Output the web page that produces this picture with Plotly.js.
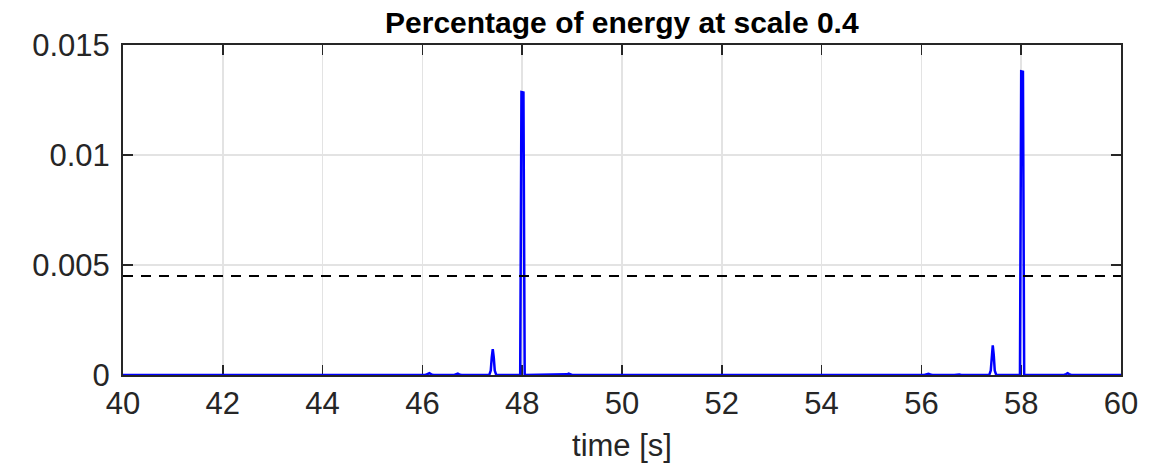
<!DOCTYPE html>
<html>
<head>
<meta charset="utf-8">
<script src="https://cdn.plot.ly/plotly-3.0.1.min.js"></script>
<style>html,body{margin:0;padding:0;background:#fff;}#chart{width:1158px;height:469px;}</style>
</head>
<body>
<div id="chart"></div>
<script>
// time [s]
var timeS = [40, 46.06, 46.1, 46.14, 46.18, 46.22, 46.64, 46.68, 46.71, 46.74, 46.78,
  47.34, 47.37, 47.39, 47.41, 47.43, 47.45, 47.48,
  47.96, 47.985, 48.025, 48.05,
  48.86, 48.9, 48.93, 48.96, 49.0,
  56.06, 56.1, 56.14, 56.18, 56.22, 56.66, 56.7, 56.73, 56.76, 56.8,
  57.36, 57.39, 57.41, 57.43, 57.45, 57.47, 57.5,
  57.975, 58.0, 58.035, 58.06,
  58.86, 58.9, 58.93, 58.96, 59.0, 60];
// percentage of energy
var energy = [0, 0, 0.00004, 0.00008, 0.00003, 0, 0, 0.00003, 0.00006, 0.00003, 0,
  0, 0.0002, 0.0008, 0.00118, 0.0008, 0.0002, 0,
  0, 0.01286, 0.01284, 0,
  0, 0.00003, 0.00006, 0.00003, 0,
  0, 0.00003, 0.00005, 0.00002, 0, 0, 0.00002, 0.00004, 0.00002, 0,
  0, 0.0002, 0.0009, 0.00135, 0.0009, 0.0002, 0,
  0, 0.0138, 0.01378, 0,
  0, 0.00004, 0.00008, 0.00004, 0, 0];
var thresholdX = [40, 60];
var thresholdY = [0.0045, 0.0045];
var xTicks = [40, 42, 44, 46, 48, 50, 52, 54, 56, 58, 60];
var yTicks = [0, 0.005, 0.01, 0.015];
var yTickText = ['0', '0.005', '0.01', '0.015'];

var FONT = 'Liberation Sans, Arial, Helvetica, sans-serif';
var traces = [
  {x: timeS, y: energy, type: 'scatter', mode: 'lines', line: {color: '#0000ff', width: 2.5}, hoverinfo: 'none'},
  {x: thresholdX, y: thresholdY, type: 'scatter', mode: 'lines', line: {color: '#000000', width: 2, dash: '10px,8px'}, hoverinfo: 'none'}
];
var axisCommon = {
  showline: true, linecolor: '#262626', linewidth: 2, mirror: 'ticks',
  ticks: 'inside', ticklen: 10, tickwidth: 1.5, tickcolor: '#262626',
  showgrid: true, gridcolor: '#e3e3e3', gridwidth: 1.5, zeroline: false,
  tickfont: {family: FONT, size: 31, color: '#262626'},
  layer: 'below traces'
};
var layout = {
  width: 1158, height: 469,
  margin: {l: 123, r: 37, t: 45, b: 94},
  paper_bgcolor: '#ffffff', plot_bgcolor: '#ffffff',
  showlegend: false,
  title: {text: '<b>Percentage of energy at scale 0.4</b>', x: 0.537, xanchor: 'center', yref: 'container', y: 0.975, yanchor: 'top',
    font: {family: FONT, size: 30, color: '#000000'}},
  xaxis: Object.assign({}, axisCommon, {range: [40, 60], tickmode: 'array', tickvals: xTicks, ticklabelstandoff: 0,
    title: {text: 'time [s]', standoff: 14, font: {family: FONT, size: 31, color: '#262626'}}}),
  yaxis: Object.assign({}, axisCommon, {range: [0, 0.015], tickmode: 'array', tickvals: yTicks, ticktext: yTickText, ticklabelstandoff: 5})
};
Plotly.newPlot('chart', traces, layout, {staticPlot: true, displayModeBar: false});
</script>
</body>
</html>
